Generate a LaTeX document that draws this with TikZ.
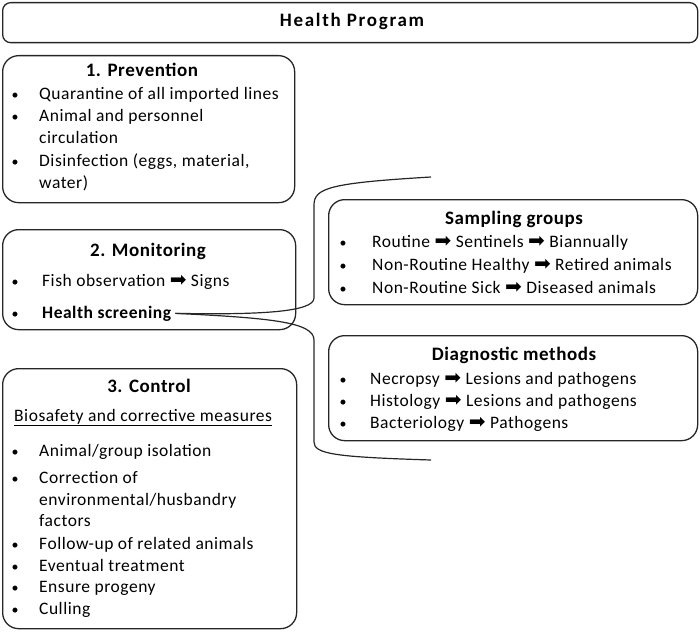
\documentclass[tikz,border=0pt]{standalone}
\usepackage{fontspec}
\setmainfont{Carlito}[LetterSpace=3]
\newfontfamily\hpfont{Carlito}[LetterSpace=9]
\newfontfamily\dejavu{DejaVu Sans}
\newcommand{\arr}{{\dejavu\fontsize{20}{18}\selectfont ➡}}
\begin{document}
\begin{tikzpicture}[x=1pt,y=-1pt,
  box/.style={draw=black!85, line width=1.3pt, rounded corners=16pt, anchor=north west, inner sep=0pt},
  ttl/.style={font=\fontsize{19}{22}\selectfont\bfseries, anchor=base, inner sep=0pt},
  txt/.style={font=\fontsize{17.5}{20}\selectfont, anchor=base west, inner sep=0pt},
  bul/.style={font=\fontsize{14}{20}\selectfont, anchor=base, inner sep=0pt},
  brace/.style={draw=black!85, line width=1.2pt}]
\useasboundingbox (0,0) rectangle (700,631);
% boxes
\node (hpbox) [box, minimum width=695pt, minimum height=40pt, rounded corners=8pt] at (2,2) {};
\node (prevbox) [box, minimum width=292pt, minimum height=147pt] at (2,55) {};
\node (monbox) [box, minimum width=293pt, minimum height=100pt] at (2,229) {};
\node (ctrlbox) [box, minimum width=294pt, minimum height=260pt] at (2,368) {};
\node (sampbox) [box, minimum width=369pt, minimum height=105pt] at (328,199) {};
\node (diagbox) [box, minimum width=369pt, minimum height=105pt] at (328,335) {};
% titles
\node (hp) [ttl, font=\hpfont\fontsize{19}{22}\selectfont\bfseries] at (352,27) {Health Program};
\node (prevt) [ttl] at (142,77) {1. Prevention};
\node (mont) [ttl] at (148,256) {2. Monitoring};
\node (ctrlt) [ttl] at (149,392) {3. Control};
\node (sampt) [ttl] at (514,224) {Sampling groups};
\node (diagt) [ttl] at (514,360) {Diagnostic methods};
% prevention
\node (pb1) [bul] at (15,100) {•};
\node (pt1) [txt] at (39,100) {Quarantine of all imported lines};
\node (pb2) [bul] at (15,122) {•};
\node (pt2) [txt] at (39,122) {Animal and personnel};
\node (pt3) [txt] at (39,144) {circulation};
\node (pb3) [bul] at (15,166) {•};
\node (pt4) [txt] at (39,166) {Disinfection (eggs, material,};
\node (pt5) [txt] at (39,188) {water)};
% monitoring
\node (mb1) [bul] at (15,286) {•};
\node (mt1) [txt] at (42,286) {Fish observation \arr\ Signs};
\node (mb2) [bul] at (15,318) {•};
\node (hs) [txt, font=\fontsize{17.5}{20}\selectfont\bfseries] at (42,318) {Health screening};
% control
\node (cu) [txt] at (14,421) {\underline{Biosafety and corrective measures}};
\node (cb1) [bul] at (15,456) {•};
\node (ct1) [txt] at (39,456) {Animal/group isolation};
\node (cb2) [bul] at (15,483) {•};
\node (ct2) [txt] at (39,483) {Correction of};
\node (ct3) [txt] at (39,505) {environmental/husbandry};
\node (ct4) [txt] at (39,526) {factors};
\node (cb3) [bul] at (15,549) {•};
\node (ct5) [txt] at (39,549) {Follow-up of related animals};
\node (cb4) [bul] at (15,571) {•};
\node (ct6) [txt] at (39,571) {Eventual treatment};
\node (cb5) [bul] at (15,592) {•};
\node (ct7) [txt] at (39,592) {Ensure progeny};
\node (cb6) [bul] at (15,614) {•};
\node (ct8) [txt] at (39,614) {Culling};
% sampling
\node (sb1) [bul] at (343,247) {•};
\node (st1) [txt] at (372,247) {Routine \arr\ Sentinels \arr\ Biannually};
\node (sb2) [bul] at (343,270) {•};
\node (st2) [txt] at (372,270) {Non-Routine Healthy \arr\ Retired animals};
\node (sb3) [bul] at (343,293) {•};
\node (st3) [txt] at (372,293) {Non-Routine Sick \arr\ Diseased animals};
% diagnostic
\node (db1) [bul] at (343,384) {•};
\node (dt1) [txt] at (370,384) {Necropsy \arr\ Lesions and pathogens};
\node (db2) [bul] at (343,406) {•};
\node (dt2) [txt] at (370,406) {Histology \arr\ Lesions and pathogens};
\node (db3) [bul] at (343,428) {•};
\node (dt3) [txt] at (370,428) {Bacteriology \arr\ Pathogens};
% brace
\coordinate (btop) at (431,177);
\coordinate (bbot) at (431,460);
\draw[brace] ([xshift=4pt]hs.east) .. controls (260,315) and (314,312) .. (314,298)
  -- (314,205) .. controls (314,188) and (330,183) .. (btop);
\draw[brace] ([xshift=4pt]hs.east) .. controls (270,318) and (314,322) .. (314,340)
  -- (314,442) .. controls (314,454) and (335,457) .. (bbot);
\end{tikzpicture}
\end{document}
